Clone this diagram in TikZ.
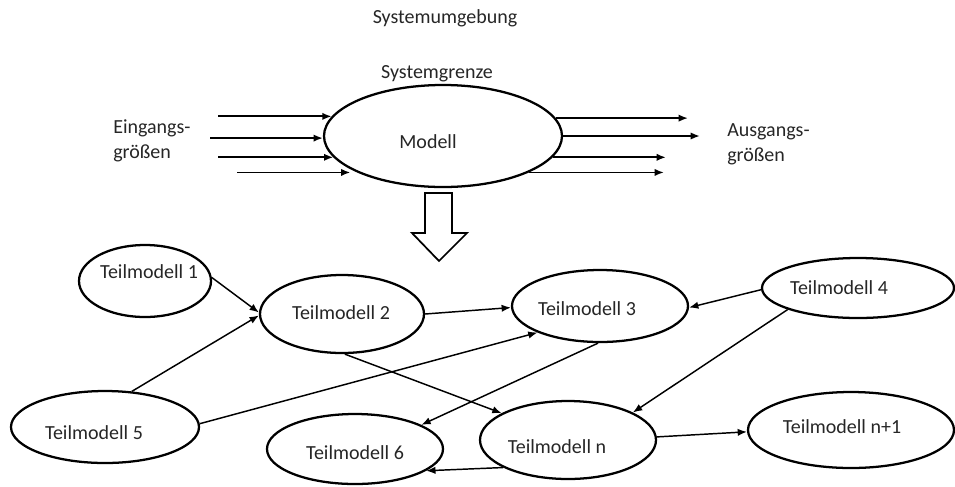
\documentclass[tikz,border=0pt]{standalone}
\usepackage{fontspec}
\setmainfont{Carlito}
\usetikzlibrary{shapes.geometric,arrows.meta}
\begin{document}
\begin{tikzpicture}[x=0.75pt,y=-0.75pt,
  every node/.style={font=\fontsize{15}{19}\selectfont, text=black!85},
  part/.style={draw, ellipse, line width=1.7pt, inner sep=0pt},
  link/.style={-{Latex[length=7pt,width=5.5pt]}, line width=1.1pt},
  flow/.style={-{Latex[length=7pt,width=5.5pt]}, line width=1.4pt},
  lbl/.style={inner sep=0pt}]
\useasboundingbox (0,0) rectangle (955,486);

% --- system view -------------------------------------------------------
\node[lbl] (env) at (445,18) {Systemumgebung};
\node[lbl] (bound) at (437,74) {Systemgrenze};
\node[part, minimum width=178.5pt, minimum height=76.5pt] (M) at (443,136) {};
\node[lbl] (Mtext) at (428,142) {Modell};
\node[lbl, align=left, anchor=west] (inp) at (113,141) {Eingangs-\\größen};
\node[lbl, align=left, anchor=west] (outp) at (727,144) {Ausgangs-\\größen};

% input quantities
\coordinate (i1) at (218,0);
\coordinate (i2) at (210,0);
\coordinate (i3) at (218,0);
\coordinate (i4) at (237,0);
\draw[flow] (M.170.2 -| i1) -- (M.170.2);
\draw[flow] (M.181.5 -| i2) -- (M.181.5);
\draw[flow] (M.191 -| i3) -- (M.191);
\draw[flow] (M.203.3 -| i4) -- ([xshift=-5pt]M.203.3);

% output quantities
\coordinate (o1) at (688,0);
\coordinate (o2) at (700,0);
\coordinate (o3) at (666,0);
\coordinate (o4) at (664,0);
\draw[flow] (M.9.8) -- (M.9.8 -| o1);
\draw[flow] (M.0) -- (M.0 -| o2);
\draw[flow] (M.-11) -- (M.-11 -| o3);
\draw[flow] (M.-23.3) -- (M.-23.3 -| o4);

% decomposition arrow
\draw[line width=1.3pt, line join=miter, fill=white]
  (425,193) -- (452,193) -- (452,233) -- (467,233) -- (439,261)
  -- (412,233) -- (425,233) -- cycle;

% --- sub-models ----------------------------------------------------------
\node[part, minimum width=99pt,    minimum height=54pt]   (T1) at (145,281) {};
\node[part, minimum width=123pt,   minimum height=58.5pt] (T2) at (342,314) {};
\node[part, minimum width=132pt,   minimum height=54pt]   (T3) at (600,306) {};
\node[part, minimum width=144pt,   minimum height=45pt]   (T4) at (858,288) {};
\node[part, minimum width=141pt,   minimum height=54pt]   (T5) at (105,427) {};
\node[part, minimum width=132pt,   minimum height=52.5pt] (T6) at (355,449) {};
\node[part, minimum width=132pt,   minimum height=58.5pt] (Tn) at (568,440) {};
\node[part, minimum width=154.5pt, minimum height=57pt]   (Tm) at (851,430) {};

\node[lbl] (T1text) at (149,272) {Teilmodell 1};
\node[lbl] (T2text) at (341,313) {Teilmodell 2};
\node[lbl] (T3text) at (587,309) {Teilmodell 3};
\node[lbl] (T4text) at (839,288) {Teilmodell 4};
\node[lbl] (T5text) at (94,433)  {Teilmodell 5};
\node[lbl] (T6text) at (355,453) {Teilmodell 6};
\node[lbl] (Tntext) at (557,447) {Teilmodell n};
\node[lbl] (Tmtext) at (842,427) {Teilmodell n+1};

% couplings between sub-models
\draw[link] (T1.3)   -- (T2.179);
\draw[link] (T5.53)  -- (T2.181);
\draw[link] (T2.0)   -- (T3.181);
\draw[link] (T5.2)   -- (T3.203);
\draw[link] (T2.274) -- (Tn.158);
\draw[link] (T3.267) -- (T6.20);
\draw[link] (T4.181) -- (T3.-1);
\draw[link] (T4.197) -- (Tn.23);
\draw[link] (Tn.2)   -- (Tm.181);
\draw[link] (Tn.203) -- (T6.-17);
\end{tikzpicture}
\end{document}
